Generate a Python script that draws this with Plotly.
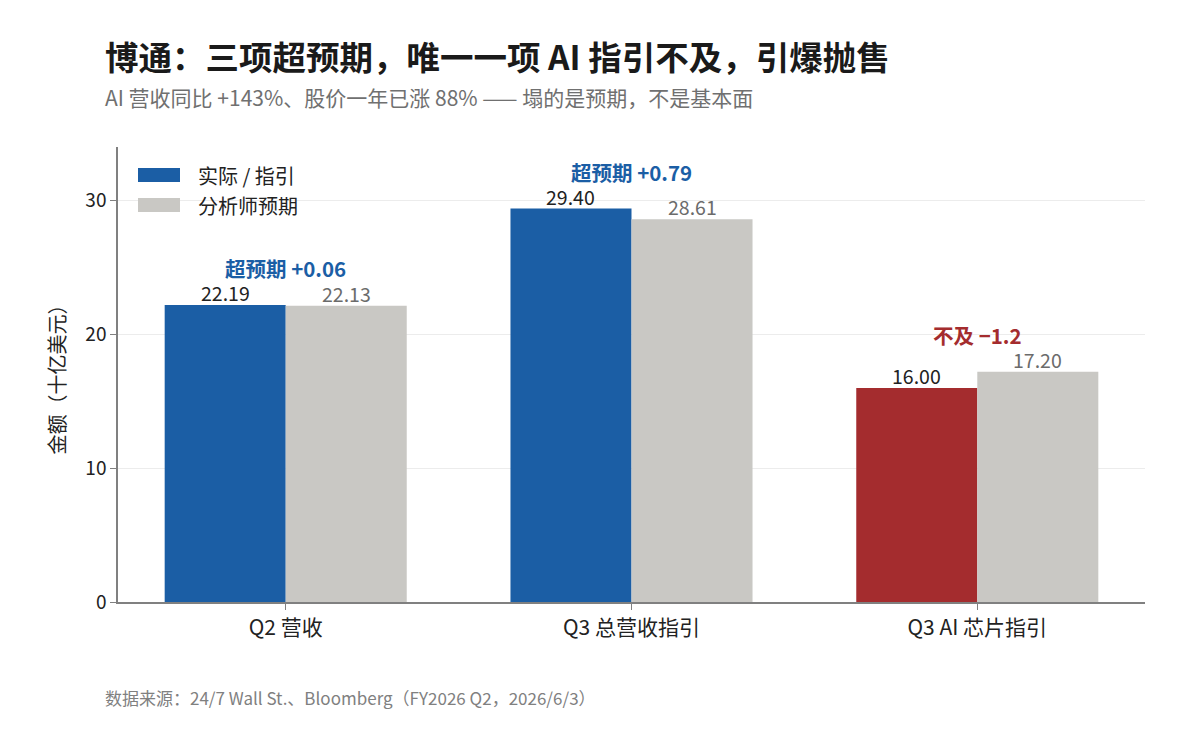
import plotly.graph_objects as go

categories = ["Q2 营收", "Q3 总营收指引", "Q3 AI 芯片指引"]
actual = [22.19, 29.40, 16.00]
expected = [22.13, 28.61, 17.20]
beat = [True, True, False]
y_ticks = [0, 10, 20, 30]

BLUE = "#1b5ea5"
RED = "#a42c2e"
GRAY = "#c9c8c4"
FONT = "Noto Sans CJK SC"

actual_colors = [BLUE if b else RED for b in beat]

fig = go.Figure()
fig.add_trace(go.Bar(
    x=categories, y=actual, name="实际 / 指引",
    marker=dict(color=actual_colors, line=dict(width=0)),
    offsetgroup="a",
))
fig.add_trace(go.Bar(
    x=categories, y=expected, name="分析师预期",
    marker=dict(color=GRAY, line=dict(width=0)),
    offsetgroup="e",
))

BAR_W = 0.35
annotations = []
for i, (c, a, e, b) in enumerate(zip(categories, actual, expected, beat)):
    # value labels above each bar (x in category index units)
    annotations.append(dict(x=i - BAR_W / 2, y=a, xref="x", yref="y", text=f"{a:.2f}",
                            showarrow=False, yanchor="bottom", yshift=-3, borderpad=0,
                            font=dict(size=19.5, color="#222222", family=FONT)))
    annotations.append(dict(x=i + BAR_W / 2, y=e, xref="x", yref="y", text=f"{e:.2f}",
                            showarrow=False, yanchor="bottom", yshift=-3, borderpad=0,
                            font=dict(size=19.5, color="#6b6b6b", family=FONT)))
    d = round(a - e, 2)
    txt = (f"超预期 {d:+g}" if b else f"不及 {d:+g}").replace("-", "−")
    annotations.append(dict(
        x=i, y=max(a, e), xref="x", yref="y", text=f"<b>{txt}</b>",
        showarrow=False, yshift=37, yanchor="middle", borderpad=0,
        font=dict(size=20.5, color=BLUE if b else RED, family=FONT),
    ))

# Title, subtitle, footer (pixel positions, converted below)
header = [
    dict(x=103, y=55, text="<b>博通：三项超预期，唯一一项 AI 指引不及，引爆抛售</b>",
         showarrow=False, xanchor="left", yanchor="middle", font=dict(size=33.5, color="#1a1a1a", family=FONT)),
    dict(x=103, y=97, text="AI 营收同比 +143%、股价一年已涨 88% —— 塌的是预期，不是基本面",
         showarrow=False, xanchor="left", yanchor="middle", font=dict(size=21, color="#707070", family=FONT)),
    dict(x=103, y=697, text="数据来源：24/7 Wall St.、Bloomberg（FY2026 Q2，2026/6/3）",
         showarrow=False, xanchor="left", yanchor="middle", font=dict(size=17, color="#808080", family=FONT)),
]
W, H = 1204, 734
ML, MR, MT, MB = 118, 59, 147, 132
pw, ph = W - ML - MR, H - MT - MB
for ann in header:
    px, py = ann["x"], ann["y"]
    ann["x"] = (px - ML) / pw
    ann["y"] = (H - MB - py) / ph
    ann["xref"] = "paper"
    ann["yref"] = "paper"
annotations += header

# Custom legend
legend_items = [("实际 / 指引", BLUE), ("分析师预期", GRAY)]
shapes = []
for i, (name, col) in enumerate(legend_items):
    cy = 175 + 30 * i
    shapes.append(dict(type="rect", xref="paper", yref="paper",
                       x0=(138 - ML) / pw, x1=(180 - ML) / pw,
                       y0=(H - MB - (cy + 7)) / ph, y1=(H - MB - (cy - 7)) / ph,
                       fillcolor=col, line=dict(width=0)))
    annotations.append(dict(x=(196 - ML) / pw, y=(H - MB - cy) / ph, xref="paper", yref="paper",
                            text=name, showarrow=False, xanchor="left", yanchor="middle",
                            font=dict(size=20, color="#222222", family=FONT)))

fig.update_layout(
    width=W, height=H,
    margin=dict(l=ML, r=MR, t=MT, b=MB, pad=0),
    paper_bgcolor="white", plot_bgcolor="white",
    barmode="group", bargap=0.3, bargroupgap=0,
    showlegend=False,
    font=dict(family=FONT, color="#222222"),
    annotations=annotations, shapes=shapes,
)
fig.update_xaxes(
    range=[-0.485, 2.485], showline=True, linecolor="#808080", linewidth=1.5,
    ticks="outside", ticklen=6, tickcolor="#808080",
    tickfont=dict(size=21, color="#222222", family=FONT), showgrid=False, zeroline=False,
)
fig.update_yaxes(
    range=[0, 34], tickvals=y_ticks, showline=True, linecolor="#808080", linewidth=1.5,
    ticks="outside", ticklen=6, tickcolor="#808080",
    tickfont=dict(size=19, color="#222222", family=FONT),
    showgrid=True, gridcolor="#ececec", gridwidth=1, zeroline=False,
    title=dict(text="金额（十亿美元）", font=dict(size=20, color="#222222", family=FONT), standoff=14),
)

fig.write_html("out.html")
